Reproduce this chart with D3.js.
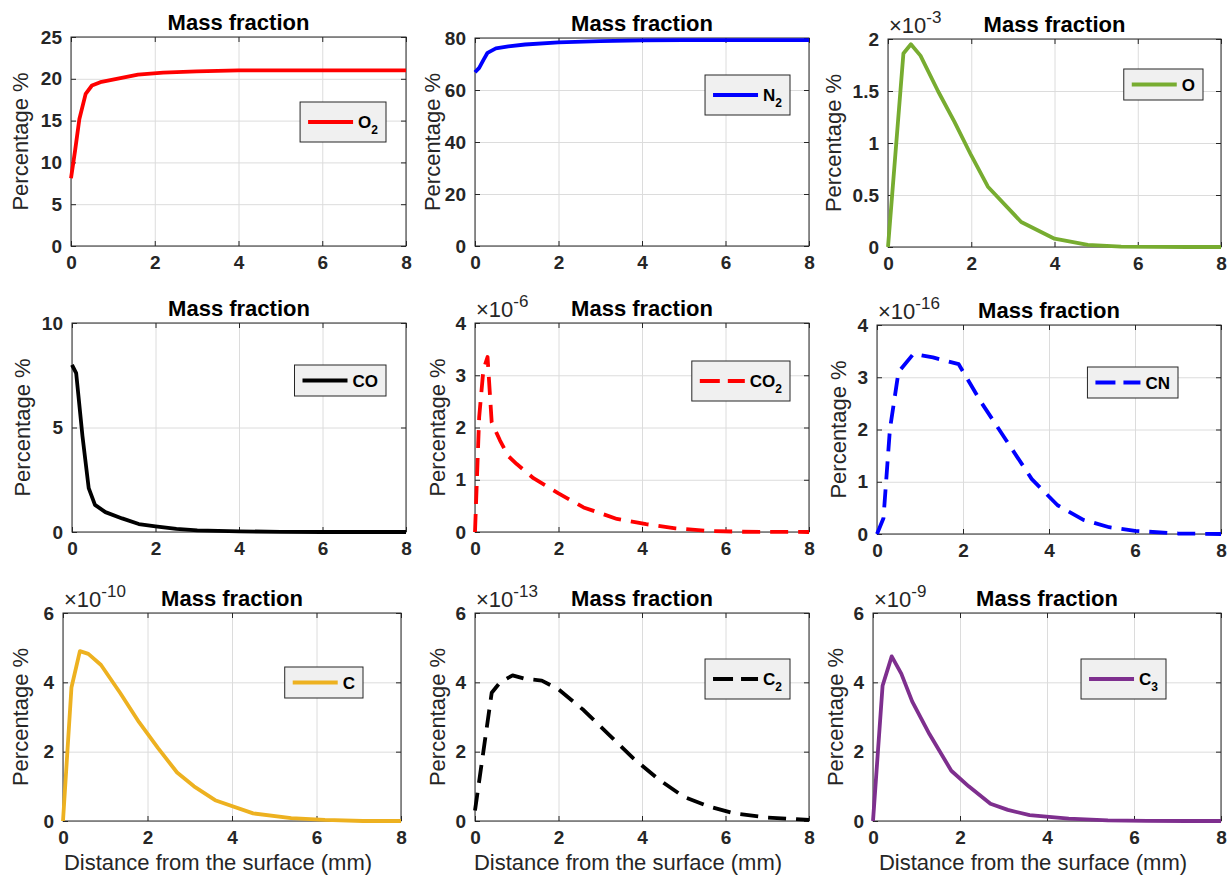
<!DOCTYPE html>
<html>
<head>
<meta charset="utf-8">
<script src="https://cdn.jsdelivr.net/npm/d3@7"></script>
<style>
  body { margin: 0; background: #fff; }
  svg { font-family: "Liberation Sans", Arial, Helvetica, sans-serif; }
</style>
</head>
<body>
<div id="chart"></div>
<script>
// species shown, one per panel
let species = ["O2", "N2", "O", "CO", "CO2", "CN", "C", "C2", "C3"]
let xTicks = [0, 2, 4, 6, 8]

// distance (mm) and mass fraction (%)
let dO2 = [0, 0.1, 0.2, 0.35, 0.5, 0.7, 1.0, 1.6, 2.2, 3.0, 4.0, 5.0, 6.0, 7.0, 8.0]
let vO2 = [8.1, 11.5, 15.2, 18.2, 19.2, 19.6, 19.9, 20.5, 20.75, 20.9, 21, 21, 21, 21, 21]

let dN2 = [0, 0.1, 0.2, 0.3, 0.5, 0.8, 1.2, 2.0, 3.0, 4.0, 5.0, 6.0, 7.0, 8.0]
let vN2 = [66.8, 68.5, 71.5, 74.3, 76, 76.8, 77.5, 78.3, 78.8, 79.1, 79.2, 79.2, 79.2, 79.2]

let dO = [0, 0.37, 0.55, 0.78, 1.2, 1.6, 2.0, 2.4, 3.2, 4.0, 4.8, 5.6, 6.4, 7.2, 8.0]
let vO = [0, 1.86, 1.95, 1.84, 1.5, 1.2, 0.88, 0.58, 0.24, 0.08, 0.02, 0.003, 0.001, 0, 0]

let dCO = [0, 0.1, 0.25, 0.4, 0.55, 0.8, 1.2, 1.6, 2.0, 2.5, 3.0, 4.0, 5.0, 6.0, 7.0, 8.0]
let vCO = [8.0, 7.6, 4.6, 2.1, 1.3, 0.95, 0.65, 0.38, 0.27, 0.15, 0.08, 0.03, 0.01, 0, 0, 0]

let dCO2 = [0, 0.1, 0.2, 0.3, 0.4, 0.6, 0.8, 1.0, 1.4, 2.0, 2.6, 3.4, 4.1, 4.8, 5.6, 6.4, 7.2, 8.0]
let vCO2 = [0, 2.2, 3.1, 3.35, 2.1, 1.75, 1.45, 1.3, 1.03, 0.74, 0.47, 0.25, 0.15, 0.07, 0.02, 0.005, 0.002, 0]

let dCN = [0, 0.15, 0.3, 0.5, 0.85, 1.3, 1.9, 2.4, 3.0, 3.6, 4.2, 4.8, 5.4, 6.0, 7.0, 8.0]
let vCN = [0, 0.3, 2.0, 3.1, 3.45, 3.38, 3.25, 2.55, 1.8, 1.05, 0.55, 0.27, 0.13, 0.06, 0.01, 0]

let dC = [0, 0.2, 0.4, 0.6, 0.9, 1.35, 1.8, 2.25, 2.7, 3.1, 3.6, 4.5, 5.4, 6.2, 7.1, 8.0]
let vC = [0, 3.85, 4.9, 4.82, 4.5, 3.7, 2.85, 2.1, 1.4, 1.0, 0.6, 0.22, 0.08, 0.03, 0, 0]

let dC2 = [0, 0.2, 0.4, 0.6, 0.9, 1.2, 1.6, 2.0, 2.6, 3.2, 3.8, 4.4, 5.0, 5.6, 6.2, 7.0, 8.0]
let vC2 = [0.3, 2.0, 3.7, 4.0, 4.2, 4.1, 4.05, 3.8, 3.2, 2.5, 1.8, 1.2, 0.7, 0.42, 0.22, 0.1, 0.03]

let dC3 = [0, 0.22, 0.43, 0.65, 0.9, 1.3, 1.8, 2.2, 2.7, 3.1, 3.6, 4.5, 5.4, 6.3, 7.2, 8.0]
let vC3 = [0, 3.9, 4.75, 4.25, 3.45, 2.5, 1.45, 1.0, 0.5, 0.32, 0.17, 0.07, 0.02, 0.005, 0, 0]

let distances = [dO2, dN2, dO, dCO, dCO2, dCN, dC, dC2, dC3]
let values = [vO2, vN2, vO, vCO, vCO2, vCN, vC, vC2, vC3]

// y axis: top of range, tick labels, power of ten shown above the axis
let yMax = [25, 80, 2, 10, 4, 4, 6, 6, 6]
let yTicks = [
  [0, 5, 10, 15, 20, 25],
  [0, 20, 40, 60, 80],
  [0, 0.5, 1, 1.5, 2],
  [0, 5, 10],
  [0, 1, 2, 3, 4],
  [0, 1, 2, 3, 4],
  [0, 2, 4, 6],
  [0, 2, 4, 6],
  [0, 2, 4, 6],
]
let exponents = [null, null, -3, null, -6, -16, -10, -13, -9]

// styles
let colors = ["#ff0000", "#0000ff", "#77ac30", "#000000", "#ff0000", "#0000ff", "#edb120", "#000000", "#7e2f8e"]
let dashed = [false, false, false, false, true, true, false, true, false]

// layout: plot box [left, top, right, bottom], y label offset, legend [right inset, top inset]
let boxes = [
  [71, 37, 406, 246], [475, 38, 809, 246], [888, 39, 1221, 247],
  [72, 323, 406, 532], [475, 323, 809, 532], [877, 325, 1221, 534],
  [63, 613, 401, 821], [475, 613, 809, 821], [873, 613, 1221, 821],
]
let ylabOffset = [51, 43, 55, 50, 38, 39, 43, 38, 38]
let legendPos = [[20, 65], [19, 37], [18, 30], [20, 42], [19, 38], [43, 42], [38, 54], [19, 46], [55, 46]]

let svg = d3.select("#chart")
  .append("svg")
  .attr("width", 1228)
  .attr("height", 876)

let axisColor = "#262626"

species.forEach(function (name, i) {
  let [l, t, r, b] = boxes[i]
  let x = d3.scaleLinear().domain([0, 8]).range([l, r])
  let y = d3.scaleLinear().domain([0, yMax[i]]).range([b, t])
  let g = svg.append("g")

  // グリッド
  g.append("g")
    .attr("transform", `translate(0,${b})`)
    .call(d3.axisBottom(x).tickValues(xTicks).tickSize(-(b - t)).tickFormat(""))
    .call(a => a.select(".domain").remove())
    .selectAll("line").attr("stroke", "#dcdcdc")
  g.append("g")
    .attr("transform", `translate(${l},0)`)
    .call(d3.axisLeft(y).tickValues(yTicks[i]).tickSize(-(r - l)).tickFormat(""))
    .call(a => a.select(".domain").remove())
    .selectAll("line").attr("stroke", "#dcdcdc")

  // 軸（目盛りは内向き）
  let gx = g.append("g")
    .attr("transform", `translate(0,${b})`)
    .call(d3.axisBottom(x).tickValues(xTicks).tickSizeInner(-5).tickSizeOuter(0).tickPadding(10)
      .tickFormat(d => String(d)))
  let gy = g.append("g")
    .attr("transform", `translate(${l},0)`)
    .call(d3.axisLeft(y).tickValues(yTicks[i]).tickSizeInner(-5).tickSizeOuter(0).tickPadding(9)
      .tickFormat(d => String(d)))
  g.append("g")
    .attr("transform", `translate(0,${t})`)
    .call(d3.axisTop(x).tickValues(xTicks).tickSizeInner(-5).tickSizeOuter(0).tickFormat(""))
  g.append("g")
    .attr("transform", `translate(${r},0)`)
    .call(d3.axisRight(y).tickValues(yTicks[i]).tickSizeInner(-5).tickSizeOuter(0).tickFormat(""))

  g.selectAll(".domain").remove()
  g.selectAll(".tick line").filter(function () { return this.getAttribute("stroke") !== "#dcdcdc" })
    .attr("stroke", axisColor)
  gx.selectAll("text").attr("font-size", "19px").attr("font-weight", "bold").attr("fill", axisColor)
  gy.selectAll("text").attr("font-size", "19px").attr("font-weight", "bold").attr("fill", axisColor)
  svg.selectAll("g").attr("font-family", null)

  g.append("rect")
    .attr("x", l).attr("y", t)
    .attr("width", r - l).attr("height", b - t)
    .attr("fill", "none")
    .attr("stroke", axisColor)
    .attr("stroke-width", 1)

  // 曲線
  let pts = distances[i].map((d, k) => [d, values[i][k]])
  g.append("path")
    .datum(pts)
    .attr("fill", "none")
    .attr("stroke", colors[i])
    .attr("stroke-width", 3.8)
    .attr("stroke-linejoin", "round")
    .attr("stroke-dasharray", dashed[i] ? "18,10" : null)
    .attr("d", d3.line().x(d => x(d[0])).y(d => y(d[1])))

  // タイトル
  g.append("text")
    .attr("x", (l + r) / 2)
    .attr("y", t - 7)
    .attr("text-anchor", "middle")
    .attr("font-size", "22px")
    .attr("font-weight", "bold")
    .text("Mass fraction")

  // 指数ラベル
  if (exponents[i] !== null) {
    let ex = g.append("text")
      .attr("x", l + 1)
      .attr("y", t - 6)
      .attr("font-size", "22px")
      .attr("fill", axisColor)
    ex.append("tspan").text("\u00d710")
    ex.append("tspan").attr("dy", -10).attr("font-size", "17px").text(String(exponents[i]))
  }

  // ラベル（Y軸）
  g.append("text")
    .attr("transform", `translate(${l - ylabOffset[i]},${(t + b) / 2}) rotate(-90)`)
    .attr("text-anchor", "middle")
    .attr("dy", "0.35em")
    .attr("font-size", "22px")
    .attr("fill", axisColor)
    .text("Percentage %")

  // ラベル（X軸）: bottom row only
  if (i >= 6) {
    g.append("text")
      .attr("x", (l + r) / 2 - 14)
      .attr("y", 870)
      .attr("text-anchor", "middle")
      .attr("font-size", "22px")
      .attr("fill", axisColor)
      .text("Distance from the surface (mm)")
  }

  // 凡例
  let main = name.replace(/\d+$/, "")
  let sub = name.slice(main.length)
  let lh = sub ? 40 : 31
  let lg = g.append("g")
  let box = lg.append("rect")
    .attr("fill", "#f0f0f0")
    .attr("stroke", axisColor)
    .attr("stroke-width", 1)
  let txt = lg.append("text")
    .attr("font-size", "17px")
    .attr("font-weight", "bold")
  txt.append("tspan").text(main)
  if (sub) txt.append("tspan").attr("dy", 6).attr("font-size", "12px").text(sub)
  let tw = txt.node().getComputedTextLength()
  let lw = 8 + 45 + 5 + tw + 8
  let lx = r - legendPos[i][0] - lw
  let ly = t + legendPos[i][1]
  let cy = ly + (sub ? 20 : lh / 2)
  box.attr("x", lx).attr("y", ly).attr("width", lw).attr("height", lh)
  txt.attr("x", lx + 58).attr("y", cy + 6)
  lg.append("line")
    .attr("x1", lx + 8).attr("x2", lx + 53)
    .attr("y1", cy).attr("y2", cy)
    .attr("stroke", colors[i])
    .attr("stroke-width", 3.8)
    .attr("stroke-dasharray", dashed[i] ? "20,8" : null)
})
</script>
</body>
</html>
